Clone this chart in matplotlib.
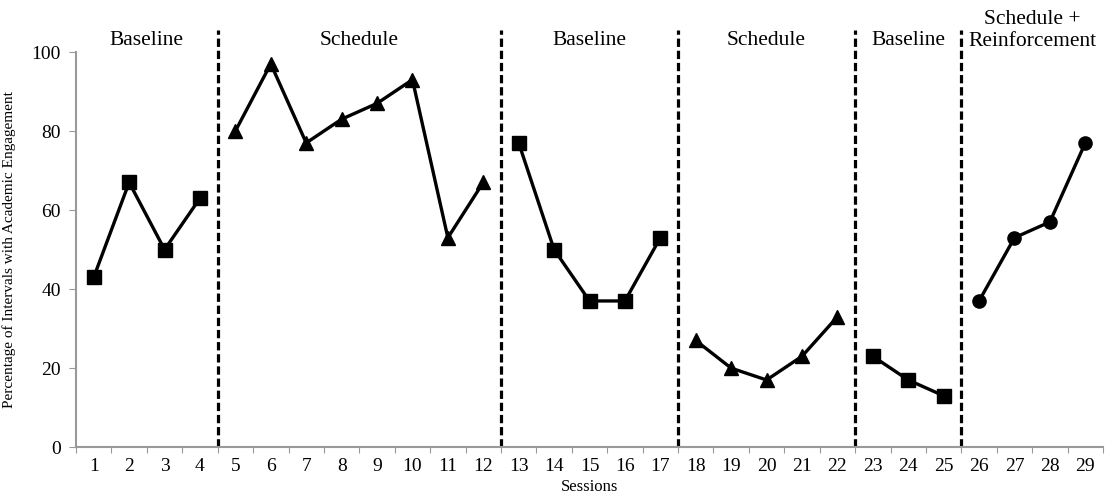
import matplotlib.pyplot as plt

plt.rcParams['font.family'] = ['Liberation Serif', 'DejaVu Serif']

# phases: (label, sessions, values, marker)
phase_labels = ["Baseline", "Schedule", "Baseline", "Schedule", "Baseline",
                "Schedule +\nReinforcement"]
phase_sessions = [
    [1, 2, 3, 4],
    [5, 6, 7, 8, 9, 10, 11, 12],
    [13, 14, 15, 16, 17],
    [18, 19, 20, 21, 22],
    [23, 24, 25],
    [26, 27, 28, 29],
]
phase_values = [
    [43, 67, 50, 63],
    [80, 97, 77, 83, 87, 93, 53, 67],
    [77, 50, 37, 37, 53],
    [27, 20, 17, 23, 33],
    [23, 17, 13],
    [37, 53, 57, 77],
]
phase_markers = ["s", "^", "s", "^", "s", "o"]
phase_changes = [4.5, 12.5, 17.5, 22.5, 25.5]

fig = plt.figure(figsize=(11.18, 5.03), dpi=100)
ax = fig.add_axes([0.068, 0.111, 0.9186, 0.7856])

for xs, ys, m in zip(phase_sessions, phase_values, phase_markers):
    ax.plot(xs, ys, color='black', linewidth=2.4, marker=m, markersize=9.5,
            clip_on=False, zorder=3)

for xc in phase_changes:
    ax.plot([xc, xc], [0, 105.5], color='black', linestyle=(0, (2.6, 1.2)),
            linewidth=2.3, clip_on=False, zorder=2)

# phase titles
bounds = [0.5] + phase_changes + [29.5]
for i, lab in enumerate(phase_labels):
    xm = (bounds[i] + bounds[i + 1]) / 2
    if '\n' in lab:
        ax.text(xm, 100.3, lab, ha='center', va='bottom', fontsize=15.5,
                linespacing=1.2, clip_on=False)
    else:
        ax.text(xm, 102.8, lab, ha='center', va='center', fontsize=15.5,
                clip_on=False)

ax.set_xlim(0.5, 29.5)
ax.set_ylim(0, 100)
ax.set_yticks(range(0, 101, 20))
ax.set_xticks([i + 0.5 for i in range(0, 30)], minor=False)
ax.set_xticklabels([])
ax.set_xticks(range(1, 30), minor=True)
ax.set_xticklabels([str(i) for i in range(1, 30)], minor=True)
ax.tick_params(axis='x', which='minor', length=0, labelsize=14, pad=8)
ax.tick_params(axis='x', which='major', length=4, color='#999999', direction='out')
ax.tick_params(axis='y', length=5, color='#999999', labelsize=14, pad=6)

for s in ['top', 'right']:
    ax.spines[s].set_visible(False)
for s in ['left', 'bottom']:
    ax.spines[s].set_color('#999999')
    ax.spines[s].set_linewidth(1.5)

ax.set_xlabel("Sessions", fontsize=12, labelpad=3)
ax.set_ylabel("Percentage of Intervals with Academic Engagement", fontsize=11,
              labelpad=11)

fig.savefig("out.png", dpi=100)
